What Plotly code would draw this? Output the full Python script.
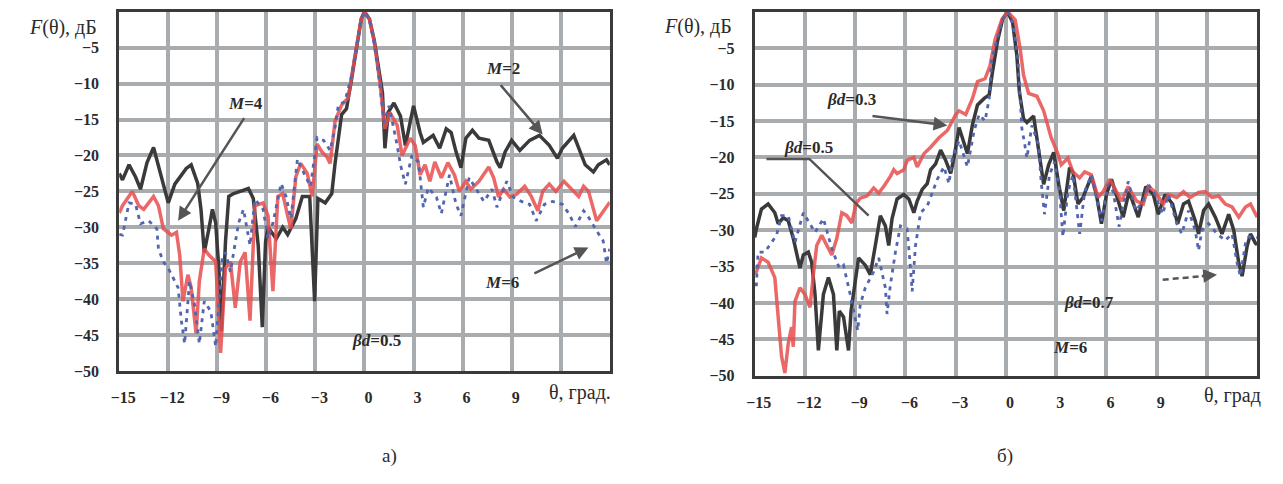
import plotly.graph_objects as go

# ---------------- data: panel a) ----------------
theta_a_m2 = [-15, -14.8, -14.4, -14.0, -13.7, -13.3, -12.9, -12.5, -12.0, -11.6, -10.9, -10.6, -10.2, -10.0, -9.8, -9.5, -9.3, -9.1, -8.9, -8.75, -8.5, -8.3, -8.0, -7.6, -7.1, -6.8, -6.5, -6.25, -6.05, -5.9, -5.4, -5.0, -4.7, -4.2, -3.8, -3.35, -3.05, -2.85, -2.4, -2.0, -1.8, -1.4, -1.1, -0.8, -0.5, -0.2, 0.0, 0.3, 0.6, 0.9, 1.1, 1.25, 1.45, 1.8, 2.2, 2.5, 3.0, 3.4, 3.6, 4.2, 4.6, 5.0, 5.3, 5.6, 5.9, 6.2, 6.6, 7.0, 7.6, 8.1, 8.3, 8.6, 9.0, 9.5, 10.1, 10.7, 11.3, 11.8, 12.1, 12.8, 13.1, 13.5, 14.0, 14.3, 14.8, 15.0]
db_a_m2 = [-22.5, -23.4, -21.3, -23.0, -24.7, -21.0, -18.9, -22.5, -26.6, -24.0, -21.8, -21.3, -23.9, -27.5, -33.5, -30.0, -27.5, -29.4, -36.0, -44.5, -32.0, -25.7, -25.3, -25.0, -24.6, -26.0, -32.5, -43.9, -32.0, -30.0, -31.6, -30.0, -31.0, -28.8, -25.7, -25.7, -40.3, -26.0, -26.6, -25.3, -21.1, -14.3, -13.5, -9.5, -5.0, -1.0, 0.0, -1.0, -4.0, -8.6, -11.3, -19.0, -14.0, -12.7, -14.5, -18.6, -13.1, -16.8, -18.2, -17.2, -19.0, -16.3, -16.8, -19.5, -21.7, -17.6, -16.5, -17.6, -17.9, -20.9, -21.7, -19.5, -17.9, -19.3, -17.9, -17.2, -18.6, -20.4, -19.0, -17.2, -19.0, -21.3, -22.3, -21.3, -20.6, -21.3]

theta_a_m4 = [-15, -14.8, -14.2, -13.8, -13.5, -12.9, -12.6, -12.3, -11.8, -11.5, -11.3, -11.1, -10.8, -10.6, -10.3, -10.1, -9.8, -9.5, -9.1, -8.8, -8.5, -8.2, -7.9, -7.6, -7.3, -7.0, -6.7, -6.2, -5.9, -5.6, -5.3, -5.0, -4.7, -4.5, -4.2, -3.9, -3.5, -3.2, -2.9, -2.6, -2.3, -2.1, -1.8, -1.4, -1.0, -0.8, -0.5, -0.2, 0.0, 0.3, 0.6, 0.95, 1.25, 1.55, 2.0, 2.3, 2.8, 3.1, 3.4, 3.7, 4.0, 4.3, 4.7, 5.1, 5.5, 5.8, 6.2, 6.5, 7.0, 7.6, 7.9, 8.2, 8.5, 8.9, 9.3, 9.8, 10.2, 10.6, 10.9, 11.3, 11.7, 12.2, 12.6, 13.1, 13.4, 13.7, 14.2, 14.6, 15.0]
db_a_m4 = [-28.0, -27.0, -25.0, -27.0, -27.5, -25.7, -27.0, -30.2, -31.1, -30.7, -33.9, -40.3, -36.6, -38.4, -44.8, -37.5, -33.0, -33.9, -34.8, -47.5, -35.7, -34.8, -41.2, -34.8, -33.5, -43.0, -27.0, -26.6, -28.4, -38.9, -25.7, -25.3, -28.4, -30.2, -23.0, -21.1, -22.5, -25.7, -18.4, -19.5, -20.2, -21.1, -15.2, -13.0, -12.0, -9.0, -5.0, -1.0, 0.0, -1.0, -4.2, -10.0, -16.3, -14.0, -15.8, -20.0, -17.6, -18.6, -22.7, -21.3, -23.6, -20.9, -23.1, -21.0, -22.7, -25.0, -23.6, -24.7, -23.6, -21.6, -23.1, -25.8, -24.7, -25.8, -25.4, -24.3, -25.7, -27.7, -25.0, -24.0, -25.0, -23.6, -24.5, -25.7, -24.3, -25.0, -29.1, -27.7, -26.5]

theta_a_m6 = [-15, -14.8, -14.4, -14.0, -13.7, -13.2, -12.7, -12.6, -12.3, -12.0, -11.4, -11.2, -11.0, -10.7, -10.4, -10.1, -9.8, -9.4, -9.1, -8.7, -8.5, -8.2, -7.9, -7.7, -7.4, -7.0, -6.7, -6.2, -5.9, -5.6, -5.1, -4.8, -4.5, -4.1, -3.7, -3.3, -2.9, -2.5, -2.1, -1.8, -1.6, -1.2, -0.8, -0.5, -0.2, 0.0, 0.3, 0.6, 0.9, 1.2, 1.5, 2.0, 2.2, 2.5, 2.9, 3.3, 3.6, 3.9, 4.4, 4.7, 5.2, 5.6, 5.9, 6.4, 6.9, 7.3, 7.8, 8.1, 8.7, 9.1, 9.6, 10.1, 10.5, 11.0, 11.5, 12.1, 12.5, 12.9, 13.4, 13.7, 14.2, 14.6, 14.8, 15.0]
db_a_m6 = [-31.0, -31.1, -26.6, -26.8, -29.5, -29.1, -30.2, -33.0, -34.8, -35.7, -38.4, -43.0, -46.2, -37.5, -40.7, -46.2, -40.3, -41.7, -46.6, -34.3, -33.5, -36.2, -32.1, -29.4, -27.5, -32.5, -26.1, -27.5, -31.6, -29.4, -23.9, -25.7, -28.8, -20.5, -22.5, -24.3, -17.5, -17.9, -19.3, -16.1, -13.0, -12.5, -9.0, -5.0, -1.0, 0.0, -1.0, -4.5, -9.5, -15.4, -13.1, -18.6, -21.3, -24.0, -20.0, -20.9, -27.2, -24.5, -25.8, -28.1, -22.7, -26.8, -28.4, -23.1, -25.0, -26.4, -24.7, -27.2, -23.6, -25.8, -26.4, -26.8, -29.1, -26.8, -26.4, -26.8, -28.1, -29.9, -27.7, -28.6, -30.5, -31.9, -35.0, -33.0]

# ---------------- data: panel б) ----------------
theta_b_03 = [-15, -14.9, -14.6, -14.2, -13.8, -13.6, -13.4, -13.2, -13.0, -12.8, -12.7, -12.6, -12.3, -12.0, -11.7, -11.5, -11.3, -11.0, -10.7, -10.4, -10.1, -9.8, -9.5, -9.2, -8.95, -8.7, -8.3, -7.9, -7.6, -7.3, -6.9, -6.7, -6.5, -6.1, -5.9, -5.5, -5.3, -4.9, -4.5, -4.0, -3.5, -3.0, -2.8, -2.4, -2.0, -1.7, -1.25, -0.95, -0.65, -0.25, 0.1, 0.55, 0.85, 1.05, 1.35, 1.85, 2.25, 2.7, 3.1, 3.3, 3.7, 4.0, 4.4, 4.7, 5.1, 5.5, 5.8, 6.2, 6.6, 6.9, 7.3, 7.8, 8.2, 8.5, 8.9, 9.4, 9.7, 10.2, 10.6, 11.0, 11.5, 11.9, 12.3, 12.7, 13.1, 13.5, 13.9, 14.3, 14.6, 15.0]
db_b_03 = [-36.0, -35.7, -33.8, -34.4, -36.5, -41.9, -47.3, -49.6, -45.6, -43.3, -46.0, -39.8, -37.9, -38.8, -40.6, -36.1, -32.1, -30.7, -32.1, -33.4, -31.1, -27.6, -28.0, -29.0, -26.3, -25.6, -25.3, -24.2, -24.9, -24.0, -22.6, -21.7, -22.2, -21.7, -20.4, -20.0, -21.3, -19.5, -18.6, -17.3, -16.3, -14.1, -13.6, -14.1, -11.9, -9.6, -9.2, -7.4, -3.8, -1.1, 0.0, -1.1, -5.1, -8.7, -11.2, -11.6, -13.6, -17.3, -19.5, -21.0, -20.1, -22.0, -22.8, -22.0, -22.4, -25.5, -24.7, -23.0, -24.7, -26.0, -24.0, -26.0, -26.4, -24.0, -24.7, -26.4, -25.1, -25.5, -24.7, -25.5, -24.8, -24.7, -25.5, -25.3, -26.4, -26.8, -28.2, -26.8, -26.4, -28.2]

theta_b_05 = [-15, -14.9, -14.6, -14.2, -13.8, -13.6, -13.3, -13.0, -12.7, -12.5, -12.3, -12.1, -11.8, -11.6, -11.4, -11.2, -11.1, -10.9, -10.6, -10.3, -10.1, -9.95, -9.7, -9.4, -9.25, -9.05, -8.8, -8.4, -8.1, -7.8, -7.5, -7.2, -7.0, -6.8, -6.5, -6.1, -5.8, -5.5, -5.3, -5.0, -4.7, -4.5, -4.2, -3.9, -3.6, -3.3, -3.1, -2.8, -2.3, -2.0, -1.7, -1.3, -1.0, -0.8, -0.5, -0.2, 0.1, 0.4, 0.65, 0.8, 1.05, 1.25, 1.65, 1.8, 2.0, 2.25, 2.55, 2.85, 3.15, 3.45, 3.8, 4.0, 4.3, 4.6, 5.1, 5.4, 5.7, 6.0, 6.3, 6.7, 7.0, 7.35, 7.6, 7.9, 8.35, 8.8, 9.1, 9.5, 9.95, 10.25, 10.6, 10.9, 11.3, 11.5, 11.8, 12.1, 12.5, 12.9, 13.3, 13.6, 13.9, 14.1, 14.4, 14.6, 14.9, 15.0]
db_b_05 = [-31.0, -29.8, -27.1, -26.4, -27.6, -29.1, -28.3, -28.7, -31.1, -33.4, -35.2, -33.4, -33.0, -34.4, -38.8, -46.5, -43.8, -38.8, -36.5, -38.8, -46.5, -41.1, -41.9, -46.5, -41.1, -37.9, -33.8, -34.8, -36.1, -32.1, -28.0, -29.4, -32.1, -28.4, -25.7, -25.1, -25.7, -27.6, -26.0, -24.4, -23.6, -21.7, -20.9, -19.0, -20.4, -22.2, -20.0, -15.9, -19.5, -15.5, -12.8, -11.9, -11.4, -8.2, -4.0, -1.0, 0.0, -1.5, -6.0, -11.0, -14.7, -15.2, -14.3, -16.6, -19.7, -23.7, -21.0, -19.3, -23.7, -27.3, -21.4, -22.0, -26.4, -25.5, -22.6, -25.1, -29.1, -25.1, -23.0, -26.0, -28.2, -24.7, -26.4, -28.2, -24.0, -25.1, -27.8, -25.1, -26.4, -29.1, -26.4, -26.0, -28.7, -30.5, -27.3, -26.4, -28.2, -30.5, -27.8, -30.0, -34.5, -36.3, -32.2, -30.5, -31.8, -32.0]

theta_b_07 = [-15, -14.9, -14.8, -14.4, -13.7, -13.4, -13.0, -12.6, -12.1, -11.7, -11.4, -10.9, -10.4, -9.95, -9.7, -9.25, -8.85, -8.7, -8.4, -7.9, -7.6, -7.2, -7.1, -6.9, -6.6, -6.3, -5.9, -5.7, -5.6, -5.4, -5.1, -4.7, -4.4, -4.1, -3.7, -3.4, -3.2, -2.8, -2.3, -1.9, -1.6, -1.25, -1.0, -0.85, -0.5, -0.2, 0.1, 0.4, 0.7, 0.95, 1.1, 1.25, 1.55, 1.95, 2.1, 2.3, 2.6, 2.9, 3.2, 3.4, 3.7, 4.0, 4.4, 4.7, 5.1, 5.4, 5.7, 6.1, 6.4, 6.75, 7.3, 7.75, 8.2, 8.5, 8.9, 9.35, 9.7, 10.2, 10.5, 10.9, 11.3, 11.5, 11.7, 12.1, 12.6, 13.1, 13.5, 13.8, 14.0, 14.3, 14.5, 15.0]
db_b_07 = [-37.5, -37.5, -33.0, -33.0, -30.7, -28.0, -28.0, -31.7, -27.6, -29.1, -30.3, -28.4, -32.5, -35.2, -34.8, -39.3, -43.8, -40.2, -37.9, -35.7, -33.8, -37.9, -41.5, -37.5, -33.0, -29.4, -29.8, -35.2, -38.4, -32.1, -27.6, -26.7, -24.9, -23.0, -21.3, -23.6, -20.0, -17.7, -21.3, -16.3, -14.1, -15.0, -11.9, -6.5, -3.5, -1.0, 0.0, -1.5, -6.0, -16.0, -17.9, -20.1, -15.6, -18.3, -23.3, -27.8, -22.4, -20.6, -24.7, -30.9, -24.7, -22.4, -30.5, -24.7, -22.4, -25.5, -28.7, -23.7, -24.7, -29.5, -23.3, -27.3, -26.0, -23.7, -25.1, -27.8, -25.1, -29.1, -30.5, -27.3, -30.0, -32.8, -30.0, -29.1, -30.5, -31.4, -30.5, -34.5, -36.3, -31.8, -30.9, -31.0]

x_ticks = [-15, -12, -9, -6, -3, 0, 3, 6, 9, 12]
x_labels = ["−15", "−12", "−9", "−6", "−3", "0", "3", "6", "9", ""]
y_ticks = [-50, -45, -40, -35, -30, -25, -20, -15, -10, -5]
y_labels = ["−50", "−45", "−40", "−35", "−30", "−25", "−20", "−15", "−10", "−5"]

BLACK = "#3a3a3a"
RED = "rgba(232,78,78,0.85)"
BLUE = "#5266b0"
TXT = "#2b2b2b"
SERIF = "Liberation Serif"

fig = go.Figure()

def add_series(th, db, xa, ya, color, width, dash, name):
    fig.add_trace(go.Scatter(x=th, y=db, xaxis=xa, yaxis=ya, mode="lines",
                             line=dict(color=color, width=width, dash=dash),
                             name=name, showlegend=False))

add_series(theta_a_m2, db_a_m2, "x", "y", BLACK, 3.5, "solid", "M=2")
add_series(theta_a_m4, db_a_m4, "x", "y", RED, 3.5, "solid", "M=4")
add_series(theta_a_m6, db_a_m6, "x", "y", BLUE, 2.8, "4px,5px", "M=6")
add_series(theta_b_05, db_b_05, "x2", "y2", BLACK, 3.5, "solid", "βd=0.5")
add_series(theta_b_03, db_b_03, "x2", "y2", RED, 3.5, "solid", "βd=0.3")
add_series(theta_b_07, db_b_07, "x2", "y2", BLUE, 2.8, "4px,5px", "βd=0.7")

W, H = 1283, 484

def bold(lbls):
    return ["<b>%s</b>" % s if s else "" for s in lbls]

def xax(d0, d1, anchor):
    return dict(domain=[d0 / W, d1 / W], anchor=anchor, range=[-15, 15],
                tickmode="array", tickvals=x_ticks, ticktext=bold(x_labels),
                showgrid=True, gridcolor="#a9acaf", gridwidth=4,
                showline=True, linecolor="#3a3a3a", linewidth=3, mirror=True,
                zeroline=False, ticks="", ticklabelstandoff=10, ticklabelshift=4,
                tickfont=dict(family=SERIF, size=16, color=TXT),
                fixedrange=True)

def yax(top, bot, anchor):
    return dict(domain=[1 - bot / H, 1 - top / H], anchor=anchor, range=[-50, 0],
                tickmode="array", tickvals=y_ticks, ticktext=bold(y_labels),
                showgrid=True, gridcolor="#a9acaf", gridwidth=3.5,
                showline=True, linecolor="#3a3a3a", linewidth=3, mirror=True,
                zeroline=False, ticks="", ticklabelstandoff=14,
                tickfont=dict(family=SERIF, size=16, color=TXT),
                fixedrange=True)

fig.update_layout(
    width=W, height=H, margin=dict(l=0, r=0, t=0, b=0),
    paper_bgcolor="white", plot_bgcolor="white", showlegend=False,
    xaxis=xax(111, 605, "y"), yaxis=yax(12, 378, "x"),
    xaxis2=xax(751, 1257, "y2"), yaxis2=yax(12, 383, "x2"),
)

ann = []
def txt(x, y, t, xref, yref, size=17, bold=True):
    ann.append(dict(x=x, y=y, xref=xref, yref=yref, text=t, showarrow=False,
                    font=dict(family=SERIF, size=size, color=TXT,
                              weight="bold" if bold else "normal"),
                    xanchor="center", yanchor="middle"))

def arrow(x0, y0, x1, y1, xref, yref, head=2):
    ann.append(dict(x=x1, y=y1, ax=x0, ay=y0, xref=xref, yref=yref,
                    axref=xref, ayref=yref, text="", showarrow=True,
                    arrowhead=head, arrowsize=1.1, arrowwidth=2.5,
                    arrowcolor="#555555"))

# axis titles
txt(54 / W, 1 - 28 / H, "<i>F</i>(θ), дБ", "paper", "paper", size=20, bold=False)
txt(575 / W, 1 - 400 / H, "θ, град.", "paper", "paper", size=20, bold=False)
txt(694 / W, 1 - 27 / H, "<i>F</i>(θ), дБ", "paper", "paper", size=20, bold=False)
txt(1232 / W, 1 - 403 / H, "θ, град", "paper", "paper", size=20, bold=False)
# captions
txt(383 / W, 1 - 465 / H, "а)", "paper", "paper", size=19, bold=False)
txt(1003 / W, 1 - 465 / H, "б)", "paper", "paper", size=19, bold=False)

# panel a) labels
txt(-7.3, -12.8, "<i>M</i>=4", "x", "y")
arrow(-7.3, -14.6, -11.4, -29.1, "x", "y")
txt(8.5, -7.9, "<i>M</i>=2", "x", "y")
arrow(8.25, -10.0, 10.9, -17.1, "x", "y")
txt(8.4, -37.7, "<i>M</i>=6", "x", "y")
arrow(10.3, -36.5, 13.7, -32.8, "x", "y")
txt(0.76, -45.8, "<i>βd</i>=0.5", "x", "y")

# panel б) labels
txt(-9.25, -12.1, "<i>βd</i>=0.3", "x2", "y2")
arrow(-8.06, -14.3, -3.5, -15.6, "x2", "y2")
txt(-11.8, -18.6, "<i>βd</i>=0.5", "x2", "y2")
txt(4.98, -39.9, "<i>βd</i>=0.7", "x2", "y2")
txt(3.8, -46.1, "<i>M</i>=6", "x2", "y2")
arrow(11.6, -36.3, 12.6, -36.1, "x2", "y2")

fig.update_layout(annotations=ann)

fig.add_shape(type="path", xref="x2", yref="y2",
              path="M -14.3,-20.2 L -11.74,-20.2 L -8.2,-28.0",
              line=dict(color="#555555", width=2.5))
fig.add_shape(type="line", xref="x2", yref="y2", x0=9.36, y0=-36.8, x1=12.0, y1=-36.25,
              line=dict(color="#555555", width=2.5, dash="6px,4px"))

fig.write_html("out.html", config={"displayModeBar": False},
               post_script="document.body.style.margin='0';")
